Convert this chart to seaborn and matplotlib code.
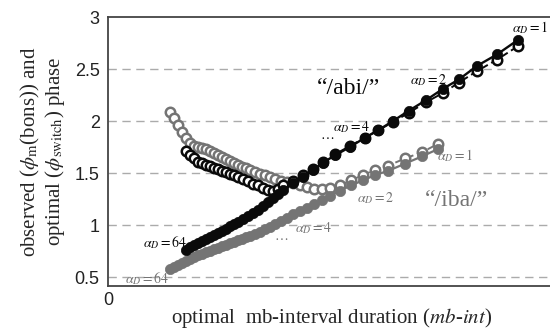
import matplotlib
matplotlib.use("Agg")
import matplotlib.pyplot as plt
import numpy as np
import pandas as pd
import seaborn as sns

# ---- data (x: optimal mb-interval duration, arbitrary units; y: phase) ----
abi_x = [78, 82, 86, 90, 94, 98, 102, 106, 110, 114, 118, 122, 126, 130, 135, 140,
         145, 150, 155, 160, 165, 170, 175, 185, 195, 205, 215, 227, 242, 257, 270,
         285, 301, 318, 335, 351, 369, 389, 410]
abi_opt = [0.76, 0.79, 0.81, 0.83, 0.85, 0.87, 0.88, 0.90, 0.92, 0.94, 0.96, 0.99,
           1.01, 1.03, 1.06, 1.09, 1.12, 1.14, 1.18, 1.22, 1.26, 1.30, 1.34, 1.40,
           1.46, 1.53, 1.60, 1.67, 1.75, 1.84, 1.91, 2.00, 2.10, 2.20, 2.31, 2.40,
           2.53, 2.64, 2.78]
abi_obs = [1.71, 1.67, 1.64, 1.61, 1.60, 1.58, 1.57, 1.55, 1.54, 1.52, 1.51, 1.49,
           1.48, 1.46, 1.44, 1.42, 1.39, 1.38, 1.36, 1.34, 1.33, 1.35, 1.38, 1.42,
           1.48, 1.54, 1.61, 1.68, 1.76, 1.84, 1.91, 1.99, 2.08, 2.18, 2.27, 2.37,
           2.48, 2.59, 2.72]

iba_x = [62, 66, 70, 74, 78, 82, 86, 90, 94, 98, 102, 106, 110, 114, 118, 122, 126,
         130, 134, 138, 142, 147, 152, 157, 162, 167, 173, 179, 185, 192, 199, 206,
         214, 222, 232, 243, 255, 267, 280, 297, 314, 330]
iba_opt = [0.58, 0.60, 0.62, 0.63, 0.65, 0.67, 0.69, 0.71, 0.72, 0.74, 0.75, 0.77,
           0.78, 0.80, 0.81, 0.83, 0.84, 0.86, 0.87, 0.88, 0.89, 0.91, 0.93, 0.96,
           0.98, 1.01, 1.04, 1.07, 1.11, 1.13, 1.16, 1.20, 1.24, 1.28, 1.33, 1.38,
           1.43, 1.48, 1.52, 1.59, 1.66, 1.73]
iba_obs = [2.09, 2.03, 1.96, 1.89, 1.84, 1.79, 1.76, 1.75, 1.74, 1.73, 1.71, 1.69,
           1.67, 1.65, 1.63, 1.62, 1.60, 1.58, 1.56, 1.55, 1.53, 1.51, 1.49, 1.48,
           1.46, 1.44, 1.42, 1.41, 1.40, 1.38, 1.37, 1.35, 1.35, 1.36, 1.38, 1.43,
           1.48, 1.53, 1.57, 1.64, 1.70, 1.78]

y_ticks = [0.5, 1, 1.5, 2, 2.5, 3]
y_ticklabels = ["0.5", "1", "1.5", "2", "2.5", "3"]

BLACK = "#0a0a0a"
GRAY = "#747474"

sns.set_theme(style="white")
plt.rcParams["font.family"] = ["Liberation Sans", "DejaVu Sans"]
plt.rcParams["mathtext.fontset"] = "stix"
serif = ["Liberation Serif", "DejaVu Serif"]

fig = plt.figure(figsize=(5.5, 3.31), dpi=100)
ax = fig.add_axes([108 / 550, 1 - 286 / 331, 442 / 550, (286 - 17) / 331])

df_abi = pd.DataFrame({"x": abi_x, "opt": abi_opt, "obs": abi_obs})
df_iba = pd.DataFrame({"x": iba_x, "opt": iba_opt, "obs": iba_obs})

ms = 7.4
# gray open (observed /iba/)
sns.lineplot(data=df_iba, x="x", y="obs", ax=ax, color=GRAY, marker="o",
             markersize=ms - 0.6, markerfacecolor="white", markeredgecolor=GRAY,
             markeredgewidth=1.8, linewidth=1.4, linestyle=(0, (4, 2)),
             sort=False, estimator=None, zorder=3)
# black open (observed /abi/)
sns.lineplot(data=df_abi, x="x", y="obs", ax=ax, color=BLACK, marker="o",
             markersize=ms - 0.6, markerfacecolor="white", markeredgecolor=BLACK,
             markeredgewidth=1.8, linewidth=1.4, linestyle=(0, (4, 2)),
             sort=False, estimator=None, zorder=4)
# gray filled (optimal /iba/)
sns.lineplot(data=df_iba, x="x", y="opt", ax=ax, color=GRAY, marker="o",
             markersize=ms, markerfacecolor=GRAY, markeredgecolor=GRAY,
             markeredgewidth=0.5, linewidth=1.6, sort=False, estimator=None, zorder=5)
# black filled (optimal /abi/)
sns.lineplot(data=df_abi, x="x", y="opt", ax=ax, color=BLACK, marker="o",
             markersize=ms, markerfacecolor=BLACK, markeredgecolor=BLACK,
             markeredgewidth=0.5, linewidth=1.7, sort=False, estimator=None, zorder=6)

ax.set_xlim(0, 442)
ax.set_ylim(0.4135, 3.0)
ax.set_yticks(y_ticks)
ax.set_yticklabels(y_ticklabels)
ax.set_xticks([0])
ax.set_xticklabels(["0"])
ax.tick_params(axis="both", length=0, labelsize=13, colors="#222222")
ax.tick_params(axis="y", pad=6)
ax.tick_params(axis="x", pad=4)

for yv in [0.5, 1, 1.5, 2, 2.5]:
    ax.axhline(yv, color="#ababab", linewidth=1.0, linestyle=(0, (6, 4)), zorder=1)

for s in ["left", "top", "bottom"]:
    ax.spines[s].set_color("#444444")
    ax.spines[s].set_linewidth(1.3)
ax.spines["right"].set_visible(False)

ax.set_ylabel("observed ($\\phi_{\\rm m}$(bons)) and\noptimal ($\\phi_{\\rm switch}$) phase",
              fontsize=15, family=serif, linespacing=1.05)
ax.yaxis.set_label_coords(-0.092, 0.5)
ax.set_xlabel("optimal  mb-interval duration ($\\it{mb}$-$\\it{int}$)",
              fontsize=15, family=serif)
ax.xaxis.set_label_coords(0.505, -0.075)

ax.text(240, 2.31, "\u201c/abi/\u201d", fontsize=17, family=serif, color=BLACK,
        ha="center", va="center", zorder=7)
ax.text(348, 1.24, "\u201c/iba/\u201d", fontsize=17, family=serif, color=GRAY,
        ha="center", va="center", zorder=7)

afs = 10
ax.text(404, 2.90, r"$\alpha_D = 1$", fontsize=afs, color=BLACK, ha="left", va="center")
ax.text(302, 2.39, r"$\alpha_D = 2$", fontsize=afs, color=BLACK, ha="left", va="center")
ax.text(212, 1.86, "\u2026", fontsize=afs, color=BLACK, ha="left", va="center", family=serif)
ax.text(225, 1.94, r"$\alpha_D = 4$", fontsize=afs, color=BLACK, ha="left", va="center")
ax.text(35, 0.83, r"$\alpha_D = 64$", fontsize=afs, color=BLACK, ha="left", va="center")
ax.text(329, 1.67, r"$\alpha_D = 1$", fontsize=afs, color=GRAY, ha="left", va="center")
ax.text(249, 1.26, r"$\alpha_D = 2$", fontsize=afs, color=GRAY, ha="left", va="center")
ax.text(167, 0.89, "\u2026", fontsize=afs, color=GRAY, ha="left", va="center", family=serif)
ax.text(187, 0.97, r"$\alpha_D = 4$", fontsize=afs, color=GRAY, ha="left", va="center")
ax.text(17, 0.48, r"$\alpha_D = 64$", fontsize=afs, color=GRAY, ha="left", va="center")

fig.savefig("out.png", dpi=100)
